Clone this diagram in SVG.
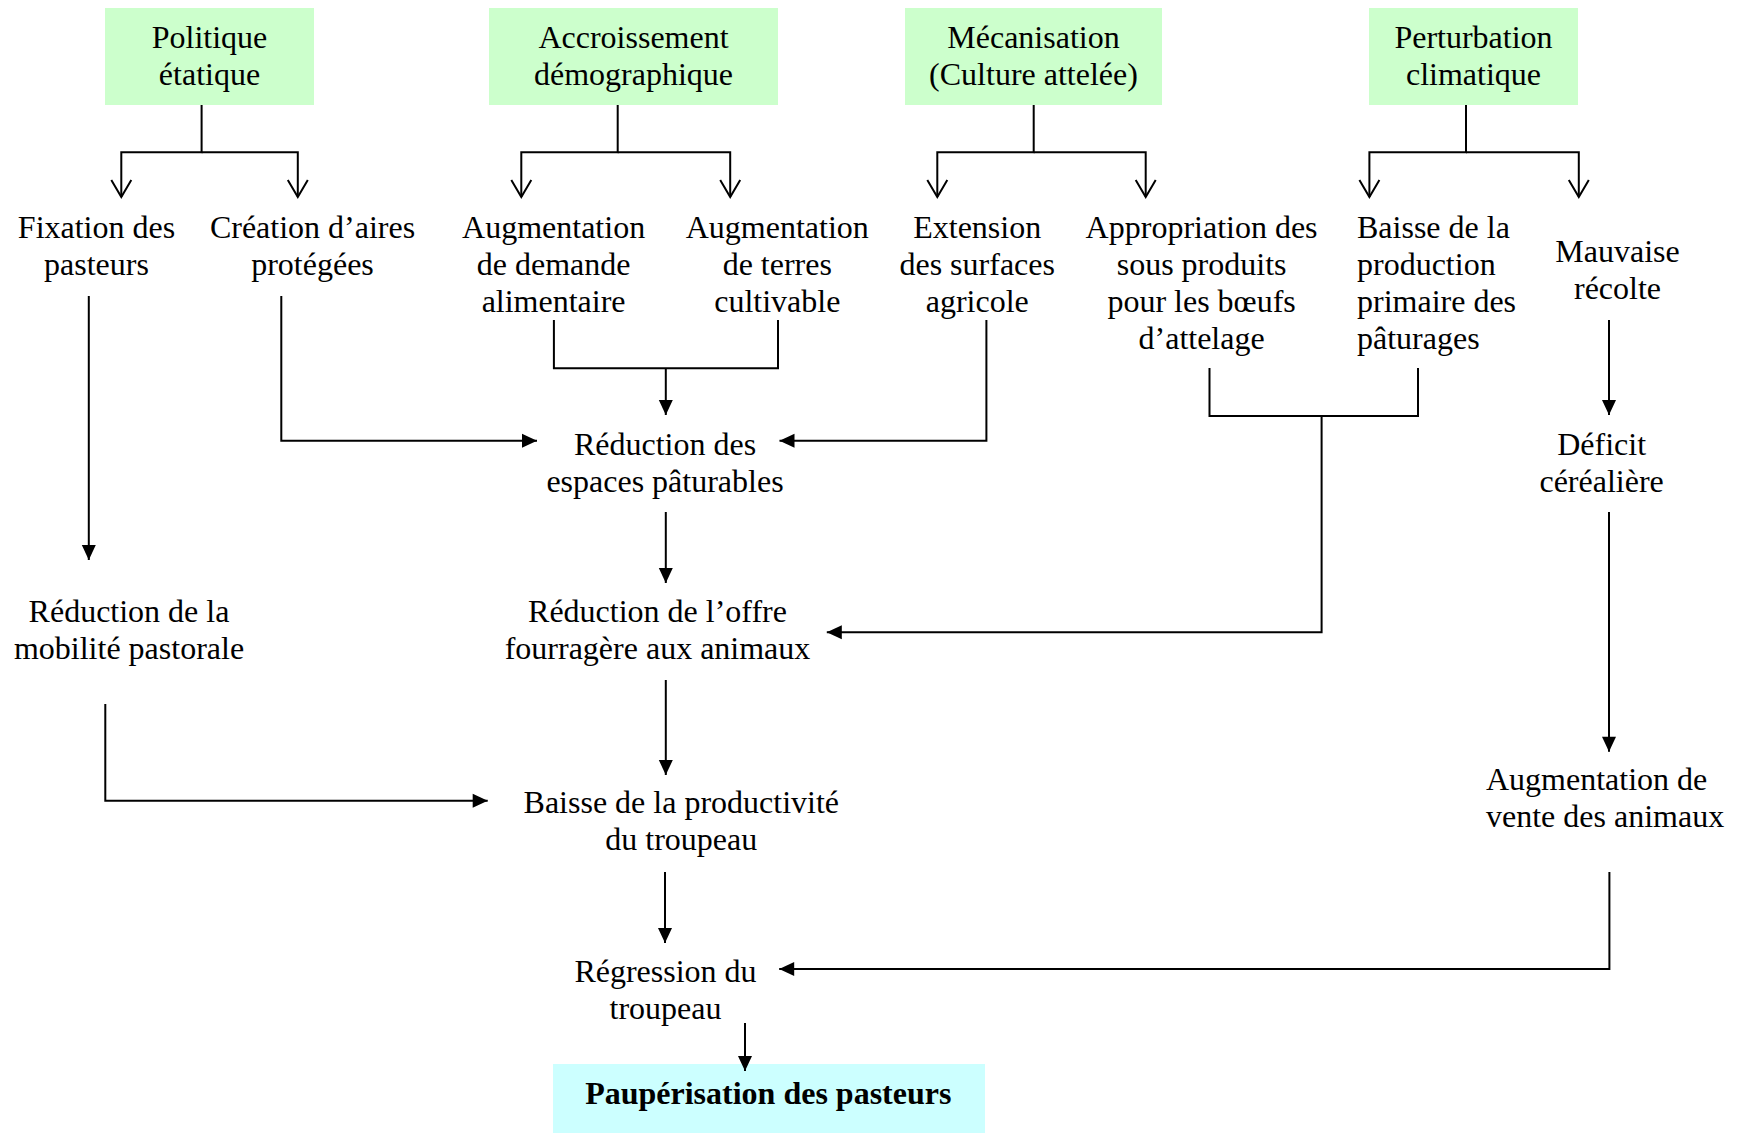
<svg xmlns="http://www.w3.org/2000/svg" width="1738" height="1133" viewBox="0 0 1738 1133">
  <style>
    .t { font-family: "Liberation Serif", "Times New Roman", serif; font-size: 32px; fill: #000; text-anchor: middle; }
    .left { text-anchor: start; }
    .bold { font-weight: bold; }
    .cause { fill: #ccffcc; }
    .result { fill: #ccffff; }
    .c { fill: none; stroke: #000; stroke-width: 2; }
    .c-open { marker-end: url(#open); }
    .c-solid { marker-end: url(#solid); }
  </style>
  <defs>
    <marker id="open" markerUnits="userSpaceOnUse" viewBox="0 0 20 22" markerWidth="20" markerHeight="22" refX="17" refY="10" orient="auto" overflow="visible">
      <path d="M0,0 L17,10 L0,20" fill="none" stroke="#000" stroke-width="2"/>
    </marker>
    <marker id="solid" markerUnits="userSpaceOnUse" viewBox="0 0 16 14" markerWidth="16" markerHeight="14" refX="15" refY="7" orient="auto" overflow="visible">
      <path d="M0,0 L15,7 L0,14 z" fill="#000"/>
    </marker>
  </defs>

  <rect width="1738" height="1133" fill="#fff"/>

  <!-- root causes -->
  <g id="politique">
    <rect class="cause" x="105" y="8" width="209" height="97"/>
    <text class="t" x="209.5" y="48">Politique</text>
    <text class="t" x="209.5" y="85">étatique</text>
  </g>
  <g id="accroissement">
    <rect class="cause" x="489" y="8" width="289" height="97"/>
    <text class="t" x="633.5" y="48">Accroissement</text>
    <text class="t" x="633.5" y="85">démographique</text>
  </g>
  <g id="mecanisation">
    <rect class="cause" x="905" y="8" width="257" height="97"/>
    <text class="t" x="1033.5" y="48">Mécanisation</text>
    <text class="t" x="1033.5" y="85">(Culture attelée)</text>
  </g>
  <g id="perturbation">
    <rect class="cause" x="1369" y="8" width="209" height="97"/>
    <text class="t" x="1473.5" y="48">Perturbation</text>
    <text class="t" x="1473.5" y="85">climatique</text>
  </g>

  <!-- first-level effects -->
  <g id="fixation">
    <text class="t" x="96.5" y="238">Fixation des</text>
    <text class="t" x="96.5" y="275">pasteurs</text>
  </g>
  <g id="creation">
    <text class="t" x="312.5" y="238">Création d’aires</text>
    <text class="t" x="312.5" y="275">protégées</text>
  </g>
  <g id="demande">
    <text class="t" x="553.6" y="238">Augmentation</text>
    <text class="t" x="553.6" y="275">de demande</text>
    <text class="t" x="553.6" y="312">alimentaire</text>
  </g>
  <g id="terres">
    <text class="t" x="777.3" y="238">Augmentation</text>
    <text class="t" x="777.3" y="275">de terres</text>
    <text class="t" x="777.3" y="312">cultivable</text>
  </g>
  <g id="extension">
    <text class="t" x="977.2" y="238">Extension</text>
    <text class="t" x="977.2" y="275">des surfaces</text>
    <text class="t" x="977.2" y="312">agricole</text>
  </g>
  <g id="appropriation">
    <text class="t" x="1201.6" y="238">Appropriation des</text>
    <text class="t" x="1201.6" y="275">sous produits</text>
    <text class="t" x="1201.6" y="312">pour les bœufs</text>
    <text class="t" x="1201.6" y="349">d’attelage</text>
  </g>
  <g id="baisse-production">
    <text class="t left" x="1357" y="238">Baisse de la</text>
    <text class="t left" x="1357" y="275">production</text>
    <text class="t left" x="1357" y="312">primaire des</text>
    <text class="t left" x="1357" y="349">pâturages</text>
  </g>
  <g id="mauvaise-recolte">
    <text class="t" x="1617.5" y="262">Mauvaise</text>
    <text class="t" x="1617.5" y="299">récolte</text>
  </g>

  <!-- downstream effects -->
  <g id="reduction-espaces">
    <text class="t" x="665" y="455">Réduction des</text>
    <text class="t" x="665" y="492">espaces pâturables</text>
  </g>
  <g id="deficit">
    <text class="t" x="1601.6" y="455">Déficit</text>
    <text class="t" x="1601.6" y="492">céréalière</text>
  </g>
  <g id="reduction-mobilite">
    <text class="t" x="129" y="622">Réduction de la</text>
    <text class="t" x="129" y="659">mobilité pastorale</text>
  </g>
  <g id="reduction-offre">
    <text class="t" x="657.5" y="622">Réduction de l’offre</text>
    <text class="t" x="657.5" y="659">fourragère aux animaux</text>
  </g>
  <g id="baisse-productivite">
    <text class="t" x="681.3" y="813">Baisse de la productivité</text>
    <text class="t" x="681.3" y="850">du troupeau</text>
  </g>
  <g id="vente-animaux">
    <text class="t left" x="1486" y="790">Augmentation de</text>
    <text class="t left" x="1486" y="827">vente des animaux</text>
  </g>
  <g id="regression">
    <text class="t" x="665.5" y="982">Régression du</text>
    <text class="t" x="665.5" y="1019">troupeau</text>
  </g>
  <g id="pauperisation">
    <rect class="result" x="553" y="1064" width="432" height="69"/>
    <text class="t bold" x="768.3" y="1104">Paupérisation des pasteurs</text>
  </g>

  <!-- connectors -->
  <g id="connectors">
    <!-- splits from the root causes -->
    <path class="c c-open" d="M201.6,105 V152.3 H121.3 V197"/>
    <path class="c c-open" d="M201.6,152.3 H297.8 V197"/>
    <path class="c c-open" d="M617.7,105 V152.3 H521.3 V197"/>
    <path class="c c-open" d="M617.7,152.3 H730.2 V197"/>
    <path class="c c-open" d="M1033.7,105 V152.3 H937.3 V197"/>
    <path class="c c-open" d="M1033.7,152.3 H1145.7 V197"/>
    <path class="c c-open" d="M1466,105 V152.3 H1369.4 V197"/>
    <path class="c c-open" d="M1466,152.3 H1578.8 V197"/>

    <!-- into Réduction des espaces pâturables -->
    <path class="c c-solid" d="M281.3,296 V440.7 H537"/>
    <path class="c" d="M553.9,320 V368.3 H778 V320"/>
    <path class="c c-solid" d="M665.8,368.3 V415"/>
    <path class="c c-solid" d="M986.4,320 V440.7 H779.5"/>

    <!-- mobility branch -->
    <path class="c c-solid" d="M88.8,296 V560"/>
    <path class="c c-solid" d="M105.3,704 V800.7 H487.7"/>

    <!-- forage branch -->
    <path class="c c-solid" d="M665.8,512 V583"/>
    <path class="c" d="M1209.5,368 V416 H1418 V368"/>
    <path class="c c-solid" d="M1321.6,416 V632.3 H826.8"/>
    <path class="c c-solid" d="M665.8,680 V775"/>

    <!-- harvest branch -->
    <path class="c c-solid" d="M1609,320 V415"/>
    <path class="c c-solid" d="M1609,512 V751.7"/>
    <path class="c c-solid" d="M1609.4,872 V969 H779.2"/>

    <!-- herd outcomes -->
    <path class="c c-solid" d="M665,872 V943"/>
    <path class="c c-solid" d="M745,1023 V1071"/>
  </g>
</svg>
